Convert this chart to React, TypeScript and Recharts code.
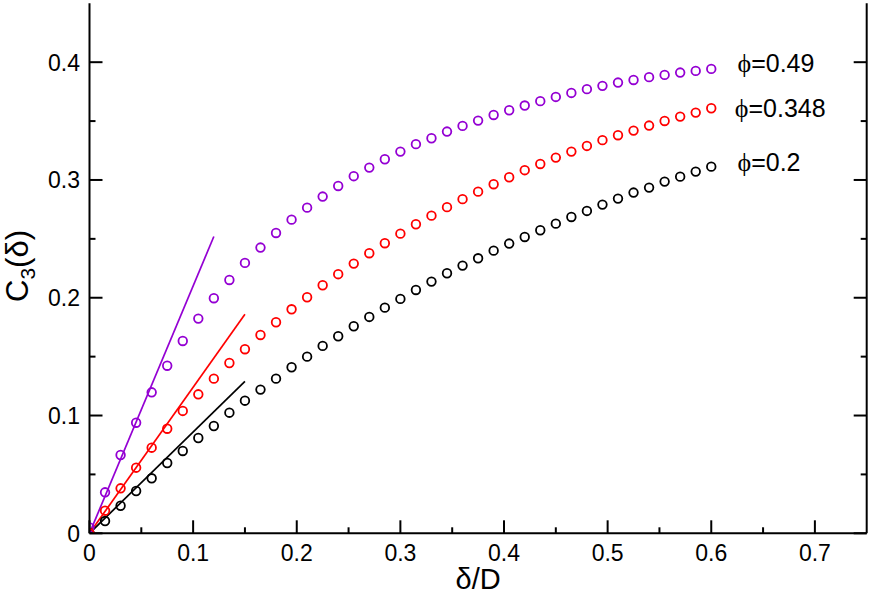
import React from 'react';
import {
  ComposedChart,
  XAxis,
  YAxis,
  Scatter,
  Line,
  ReferenceDot,
  Label,
} from 'recharts';

const FONT = '"Liberation Sans", Arial, Helvetica, sans-serif';

// sample positions delta/D
const deltaValues = [
  0, 0.015, 0.03, 0.045, 0.06, 0.075, 0.09, 0.105, 0.12, 0.135,
  0.15, 0.165, 0.18, 0.195, 0.21, 0.225, 0.24, 0.255, 0.27, 0.285,
  0.3, 0.315, 0.33, 0.345, 0.36, 0.375, 0.39, 0.405, 0.42, 0.435,
  0.45, 0.465, 0.48, 0.495, 0.51, 0.525, 0.54, 0.555, 0.57, 0.585, 0.6,
];

const phi049 = [
  0.005, 0.0348, 0.0665, 0.0939, 0.1197, 0.1423, 0.1633, 0.1823, 0.1996, 0.2151,
  0.2296, 0.2426, 0.255, 0.2663, 0.2765, 0.2859, 0.2949, 0.3032, 0.3105, 0.3176,
  0.3241, 0.3304, 0.3354, 0.3411, 0.3459, 0.3504, 0.3552, 0.3592, 0.3632, 0.3669,
  0.3705, 0.3739, 0.3771, 0.3799, 0.3827, 0.3849, 0.3873, 0.3892, 0.3912, 0.3926, 0.3943,
];

const phi0348 = [
  0, 0.0192, 0.0382, 0.0557, 0.0727, 0.0888, 0.1039, 0.118, 0.1313, 0.1446,
  0.1563, 0.1684, 0.1792, 0.1902, 0.2004, 0.2106, 0.22, 0.229, 0.2378, 0.2463,
  0.2544, 0.2624, 0.2697, 0.2769, 0.2837, 0.2901, 0.2964, 0.3023, 0.3083, 0.3136,
  0.319, 0.3241, 0.3289, 0.3338, 0.338, 0.3419, 0.3462, 0.3501, 0.3538, 0.3572, 0.3609,
];

const phi02 = [
  0, 0.0104, 0.0234, 0.0359, 0.0467, 0.0597, 0.0699, 0.0809, 0.0911, 0.1024,
  0.1126, 0.122, 0.1313, 0.141, 0.15, 0.1591, 0.1673, 0.1758, 0.1837, 0.1916,
  0.199, 0.2066, 0.2137, 0.2208, 0.2273, 0.2335, 0.24, 0.246, 0.2516, 0.2573,
  0.2629, 0.2686, 0.2737, 0.2791, 0.2842, 0.2893, 0.2935, 0.2986, 0.3028, 0.3071, 0.3113,
];

// straight-line (small-delta) fits: start and end points
const lineX049 = [0, 0.12];
const lineY049 = [0, 0.252];
const lineX0348 = [0, 0.15];
const lineY0348 = [0, 0.186];
const lineX02 = [0, 0.15];
const lineY02 = [0, 0.129];

const seriesLabels = ['ϕ=0.49', 'ϕ=0.348', 'ϕ=0.2'];
const labelX = [0.6253, 0.6227, 0.6253];
const labelY = [0.3994, 0.3612, 0.3156];

const xTicks = [0, 0.05, 0.1, 0.15, 0.2, 0.25, 0.3, 0.35, 0.4, 0.45, 0.5, 0.55, 0.6, 0.65, 0.7];
const yTicks = [0, 0.05, 0.1, 0.15, 0.2, 0.25, 0.3, 0.35, 0.4];

const COLORS = ['#9400d3', '#ff0000', '#000000'];

const toPoints = (xs: number[], ys: number[]) => xs.map((x, i) => ({ x, y: ys[i] }));

const pts049 = toPoints(deltaValues, phi049);
const pts0348 = toPoints(deltaValues, phi0348);
const pts02 = toPoints(deltaValues, phi02);
const ln049 = toPoints(lineX049, lineY049);
const ln0348 = toPoints(lineX0348, lineY0348);
const ln02 = toPoints(lineX02, lineY02);

const isMajor = (v: number) => Math.abs(v * 10 - Math.round(v * 10)) < 1e-6;
const fmt = (v: number) => (v === 0 ? '0' : v.toFixed(1));

const MAJ = 13;
const MIN = 6;
const TICK_FONT = 23;

const BottomTick = (props: any) => {
  const { x, y, payload } = props;
  const v = payload.value;
  const major = isMajor(v);
  return (
    <g>
      <line x1={x} y1={y} x2={x} y2={y - (major ? MAJ : MIN)} stroke="#000" strokeWidth={2} />
      {major && (
        <text x={x} y={y + 27.5} textAnchor="middle" fontSize={TICK_FONT} fontFamily={FONT} fill="#000">
          {fmt(v)}
        </text>
      )}
    </g>
  );
};

const TopTick = (props: any) => {
  const { x, y, payload } = props;
  const major = isMajor(payload.value);
  return <line x1={x} y1={y} x2={x} y2={y + (major ? MAJ : MIN)} stroke="#000" strokeWidth={2} />;
};

const LeftTick = (props: any) => {
  const { x, y, payload } = props;
  const v = payload.value;
  const major = isMajor(v);
  return (
    <g>
      <line x1={x} y1={y} x2={x + (major ? MAJ : MIN)} y2={y} stroke="#000" strokeWidth={2} />
      {major && (
        <text x={x - 9.5} y={y + 8.5} textAnchor="end" fontSize={TICK_FONT} fontFamily={FONT} fill="#000">
          {fmt(v)}
        </text>
      )}
    </g>
  );
};

const RightTick = (props: any) => {
  const { x, y, payload } = props;
  const major = isMajor(payload.value);
  return <line x1={x} y1={y} x2={x - (major ? MAJ : MIN)} y2={y} stroke="#000" strokeWidth={2} />;
};

const makeCircle = (color: string) => (p: any) => (
  <circle cx={p.cx} cy={p.cy} r={4.3} fill="none" stroke={color} strokeWidth={1.8} />
);

const makeLabel = (text: string) => (p: any) => {
  const [sym, ...rest] = Array.from(text);
  return (
    <text x={p.cx} y={p.cy + 9} fontSize={25} fontFamily={FONT} fill="#000">
      <tspan fontFamily='"Liberation Serif", "DejaVu Serif", serif' fontSize={26}>{sym}</tspan>
      <tspan>{rest.join('')}</tspan>
    </text>
  );
};

const XTitle = (props: any) => {
  const { viewBox } = props;
  const cx = viewBox.x + viewBox.width / 2;
  return (
    <text x={cx} y={viewBox.y + 55.5} textAnchor="middle" fontSize={29} fontFamily={FONT} fill="#000">
      δ/D
    </text>
  );
};

const YTitle = () => {
  const cx = 28;
  const cy = 266;
  return (
    <text
      x={cx}
      y={cy}
      transform={`rotate(-90 ${cx} ${cy})`}
      textAnchor="middle"
      fontSize={31}
      fontFamily={FONT}
      fill="#000"
    >
      <tspan>C</tspan>
      <tspan fontSize={21} dy={7}>3</tspan>
      <tspan dy={-7}>(δ)</tspan>
    </text>
  );
};

export default function App() {
  return (
    <div style={{ position: 'absolute', left: 0, top: 0, background: '#fff' }}>
      <ComposedChart
        width={871}
        height={596}
        margin={{ top: 3.3, right: 0, bottom: 0, left: 0 }}
      >
        <XAxis
          xAxisId={0}
          dataKey="x"
          type="number"
          domain={[0, 0.75]}
          ticks={xTicks}
          interval={0}
          orientation="bottom"
          height={62.7}
          tickSize={0}
          tickMargin={0}
          tickLine={false}
          axisLine={{ stroke: '#000', strokeWidth: 2 }}
          tick={<BottomTick />}
          allowDataOverflow
        >
          <Label content={<XTitle />} />
        </XAxis>
        <XAxis
          xAxisId="top"
          type="number"
          domain={[0, 0.75]}
          ticks={xTicks}
          interval={0}
          orientation="top"
          height={0}
          tickSize={0}
          tickMargin={0}
          tickLine={false}
          axisLine={{ stroke: '#000', strokeWidth: 2 }}
          tick={<TopTick />}
          allowDataOverflow
        />
        <YAxis
          yAxisId={0}
          dataKey="y"
          type="number"
          domain={[0, 0.45]}
          ticks={yTicks}
          interval={0}
          orientation="left"
          width={89.5}
          tickSize={0}
          tickMargin={0}
          tickLine={false}
          axisLine={{ stroke: '#000', strokeWidth: 2 }}
          tick={<LeftTick />}
          allowDataOverflow
        />
        <YAxis
          yAxisId="right"
          type="number"
          domain={[0, 0.45]}
          ticks={yTicks}
          interval={0}
          orientation="right"
          width={4.3}
          tickSize={0}
          tickMargin={0}
          tickLine={false}
          axisLine={{ stroke: '#000', strokeWidth: 2 }}
          tick={<RightTick />}
          allowDataOverflow
        />

        <Scatter data={pts02} dataKey="y" shape={makeCircle(COLORS[2])} isAnimationActive={false} />
        <Scatter data={pts049} dataKey="y" shape={makeCircle(COLORS[0])} isAnimationActive={false} />
        <Scatter data={pts0348} dataKey="y" shape={makeCircle(COLORS[1])} isAnimationActive={false} />

        <Line data={ln049} dataKey="y" type="linear" stroke={COLORS[0]} strokeWidth={1.7} dot={false} activeDot={false} isAnimationActive={false} />
        <Line data={ln0348} dataKey="y" type="linear" stroke={COLORS[1]} strokeWidth={1.7} dot={false} activeDot={false} isAnimationActive={false} />
        <Line data={ln02} dataKey="y" type="linear" stroke={COLORS[2]} strokeWidth={1.7} dot={false} activeDot={false} isAnimationActive={false} />

        {seriesLabels.map((t, i) => (
          <ReferenceDot key={t} x={labelX[i]} y={labelY[i]} r={0} shape={makeLabel(t)} />
        ))}

        <YTitle />
      </ComposedChart>
    </div>
  );
}
